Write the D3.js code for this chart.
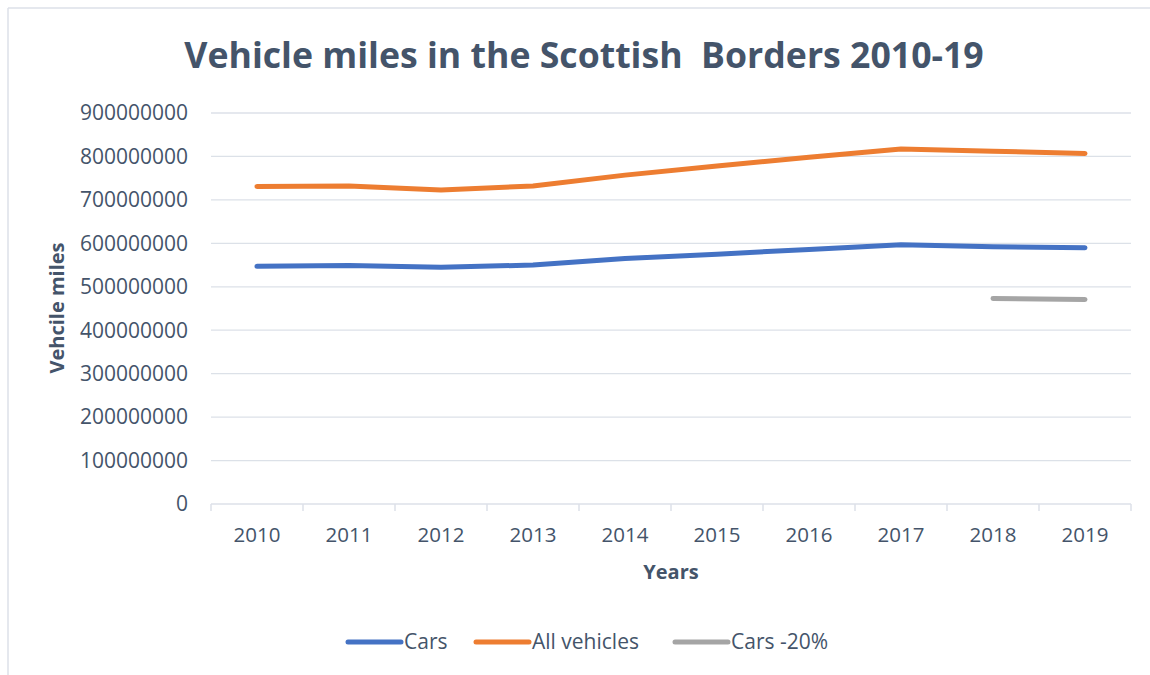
<!DOCTYPE html>
<html>
<head>
<meta charset="utf-8">
<script src="https://cdn.jsdelivr.net/npm/d3@7"></script>
<style>
  html, body { margin: 0; padding: 0; background: #ffffff; }
  svg { display: block; }
</style>
</head>
<body>
<svg id="chart" width="1150" height="675"></svg>
<script>
const years = ["2010","2011","2012","2013","2014","2015","2016","2017","2018","2019"];
const cars = [547000000, 549000000, 545000000, 550000000, 565000000, 575000000, 586000000, 597000000, 592000000, 590000000];
const allVehicles = [731000000, 732000000, 723000000, 732000000, 757000000, 778000000, 798000000, 817000000, 812000000, 807000000];
const carsMinus20 = [null, null, null, null, null, null, null, null, 473000000, 471000000];
const yTicks = [0, 100000000, 200000000, 300000000, 400000000, 500000000, 600000000, 700000000, 800000000, 900000000];

const series = [
  { name: "Cars", values: cars, color: "#4472C4" },
  { name: "All vehicles", values: allVehicles, color: "#ED7D31" },
  { name: "Cars -20%", values: carsMinus20, color: "#A5A5A5" }
];

const textColor = "#44546A";
const gridColor = "#DCE1E8";
const svg = d3.select("#chart");

// chart border (top and left visible)
svg.append("line").attr("x1", 8).attr("x2", 1150).attr("y1", 8).attr("y2", 8)
  .attr("stroke", gridColor).attr("stroke-width", 1.5);
svg.append("line").attr("x1", 8).attr("x2", 8).attr("y1", 8).attr("y2", 675)
  .attr("stroke", gridColor).attr("stroke-width", 1.5);

const x = d3.scaleBand().domain(years).range([211, 1131]);
const y = d3.scaleLinear().domain([0, 900000000]).range([504, 113]);
const cx = d => x(d) + x.bandwidth() / 2;

// gridlines
svg.append("g").selectAll("line").data(yTicks.filter(t => t > 0)).join("line")
  .attr("x1", 211).attr("x2", 1131)
  .attr("y1", d => y(d)).attr("y2", d => y(d))
  .attr("stroke", gridColor).attr("stroke-width", 1.3);

// y tick labels
svg.append("g").selectAll("text").data(yTicks).join("text")
  .attr("x", 188).attr("y", d => y(d)).attr("dy", "0.35em")
  .attr("text-anchor", "end")
  .attr("font-family", "'Open Sans', sans-serif").attr("font-size", 21)
  .attr("fill", textColor)
  .text(d => String(d));

// x axis line + ticks
svg.append("line").attr("x1", 211).attr("x2", 1131).attr("y1", y(0)).attr("y2", y(0))
  .attr("stroke", gridColor).attr("stroke-width", 1.5);
const edges = years.map(d => x(d)).concat([x(years[years.length - 1]) + x.bandwidth()]);
svg.append("g").selectAll("line").data(edges).join("line")
  .attr("x1", d => d).attr("x2", d => d)
  .attr("y1", y(0)).attr("y2", y(0) + 7)
  .attr("stroke", gridColor).attr("stroke-width", 1.5);

// x labels
svg.append("g").selectAll("text").data(years).join("text")
  .attr("x", d => cx(d)).attr("y", 535).attr("dy", "0.35em")
  .attr("text-anchor", "middle")
  .attr("font-family", "'Open Sans', sans-serif").attr("font-size", 20.5)
  .attr("fill", textColor)
  .text(d => d);

// axis titles
svg.append("text").attr("x", 671).attr("y", 572).attr("dy", "0.35em")
  .attr("text-anchor", "middle")
  .attr("font-family", "'Open Sans', sans-serif").attr("font-weight", "bold").attr("font-size", 20)
  .attr("fill", textColor).text("Years");
svg.append("text")
  .attr("transform", "translate(57,308) rotate(-90)")
  .attr("dy", "0.35em")
  .attr("text-anchor", "middle")
  .attr("font-family", "'Open Sans', sans-serif").attr("font-weight", "bold").attr("font-size", 20)
  .attr("fill", textColor).text("Vehcile miles");

// title, fitted to width
const title = svg.append("text").attr("x", 584).attr("y", 56).attr("dy", "0.35em")
  .attr("text-anchor", "middle")
  .attr("font-family", "'Liberation Sans Narrow', 'Open Sans', sans-serif").attr("font-weight", "bold")
  .attr("font-size", 36).attr("fill", textColor)
  .attr("xml:space", "preserve")
  .style("white-space", "pre")
  .text("Vehicle miles in the Scottish  Borders 2010-19");
const tw = title.node().getComputedTextLength();
title.attr("font-size", Math.min(42, 36 * 800 / tw));

// lines
const line = d3.line()
  .defined(d => d.v !== null)
  .x(d => cx(d.year))
  .y(d => y(d.v));

svg.append("g").selectAll("path").data(series).join("path")
  .attr("d", s => line(years.map((yr, i) => ({ year: yr, v: s.values[i] }))))
  .attr("fill", "none")
  .attr("stroke", s => s.color)
  .attr("stroke-width", 5)
  .attr("stroke-linecap", "round")
  .attr("stroke-linejoin", "round");

// legend
const legendItems = [
  { s: series[0], x0: 348, x1: 401, tx: 404 },
  { s: series[1], x0: 476, x1: 529, tx: 532 },
  { s: series[2], x0: 675, x1: 728, tx: 731 }
];
const lg = svg.append("g");
legendItems.forEach(it => {
  lg.append("line").attr("x1", it.x0).attr("x2", it.x1).attr("y1", 642).attr("y2", 642)
    .attr("stroke", it.s.color).attr("stroke-width", 5).attr("stroke-linecap", "round");
  lg.append("text").attr("x", it.tx).attr("y", 642).attr("dy", "0.35em")
    .attr("font-family", "'Open Sans', sans-serif").attr("font-size", 21)
    .attr("fill", textColor).text(it.s.name);
});
</script>
</body>
</html>
